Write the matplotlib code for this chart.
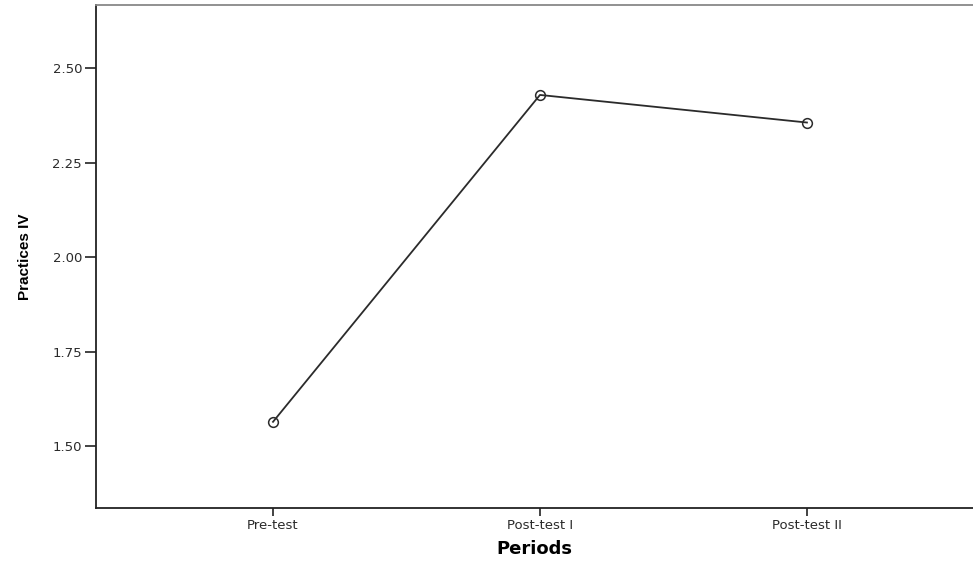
import matplotlib.pyplot as plt

# Estimated marginal means
periods = ["Pre-test", "Post-test I", "Post-test II"]
means = [1.564, 2.429, 2.356]
y_ticks = [1.50, 1.75, 2.00, 2.25, 2.50]

plt.rcParams["font.family"] = ["DejaVu Sans"]

fig = plt.figure(figsize=(9.73, 5.63), dpi=100)
ax = fig.add_axes([96 / 973, 1 - 508 / 563, 1 - 96 / 973, 503 / 563])

x = list(range(len(periods)))
ax.plot(x, means, color="#2b2b2b", linewidth=1.3, marker="o",
        markersize=7, markerfacecolor="none", markeredgecolor="#2b2b2b",
        markeredgewidth=1.1)

ax.set_xlim(-0.663, 2.622)
ax.set_ylim(1.336, 2.667)
ax.set_xticks(x)
ax.set_xticklabels(periods)
ax.set_yticks(y_ticks)
ax.set_yticklabels([f"{v:.2f}" for v in y_ticks])

ax.tick_params(axis="both", direction="out", width=1.2,
               colors="#222222", labelsize=9.5, labelcolor="#2a2a2a")
ax.tick_params(axis="y", length=8, pad=2)
ax.tick_params(axis="x", length=6, pad=2)

ax.spines["right"].set_visible(False)
ax.spines["top"].set_color("#888888")
ax.spines["top"].set_linewidth(1.3)
for side in ["left", "bottom"]:
    ax.spines[side].set_color("#222222")
    ax.spines[side].set_linewidth(1.3)

ax.set_ylabel("Practices IV", fontsize=11, fontweight="bold",
              family=["Liberation Sans Narrow", "Liberation Sans"], labelpad=15)
ax.set_xlabel("Periods", fontsize=13, fontweight="bold", labelpad=6)

plt.savefig("out.png", dpi=100)
